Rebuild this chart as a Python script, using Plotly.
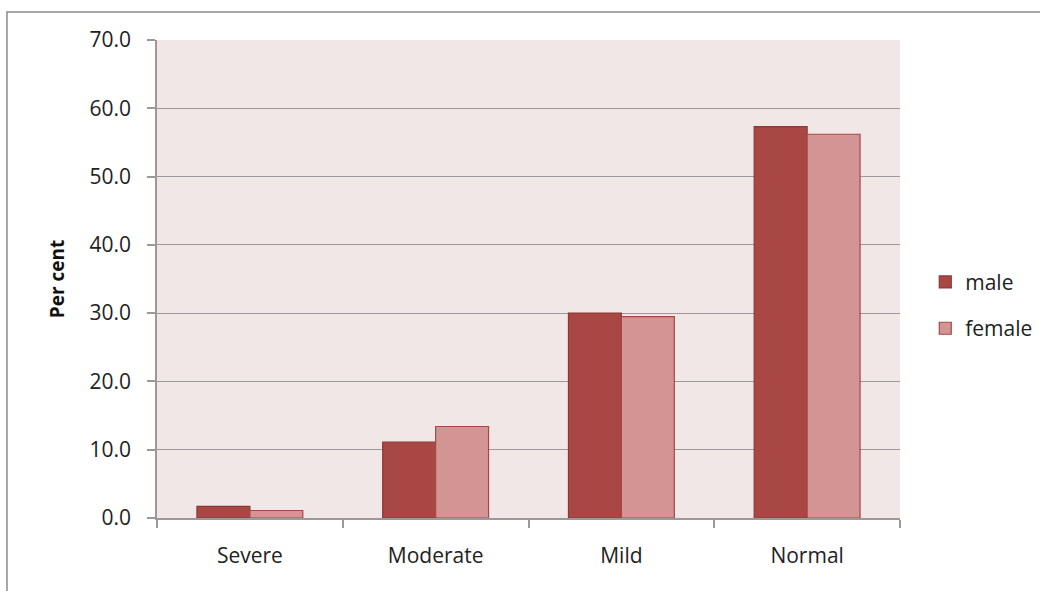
import plotly.graph_objects as go

# Severity categories and percentages by sex
categories = ["Severe", "Moderate", "Mild", "Normal"]
male = [1.7, 11.1, 30.0, 57.3]
female = [1.1, 13.4, 29.5, 56.2]
y_ticks = [0, 10, 20, 30, 40, 50, 60, 70]
y_tick_labels = ["0.0", "10.0", "20.0", "30.0", "40.0", "50.0", "60.0", "70.0"]

FONT = "Open Sans"

fig = go.Figure()
fig.add_trace(go.Bar(
    name="male", x=categories, y=male, legendgroup="male",
    marker=dict(color="#A94745", line=dict(color="#8E3735", width=1.2)),
))
fig.add_trace(go.Bar(
    name="female", x=categories, y=female, legendgroup="female",
    marker=dict(color="#D39594", line=dict(color="#A94745", width=1.2)),
))

fig.update_layout(
    width=1040, height=591,
    margin=dict(l=157, r=140, t=40, b=73, autoexpand=False),
    paper_bgcolor="white",
    plot_bgcolor="#F2E7E7",
    barmode="group",
    bargap=0.43,
    bargroupgap=0,
    font=dict(family=FONT, size=20, color="#222222"),
    showlegend=True,
    legend=dict(
        x=1.034, y=0.445, xanchor="left", yanchor="middle",
        font=dict(family=FONT, size=21, color="#222222"),
        bgcolor="rgba(0,0,0,0)",
        itemwidth=30,
        tracegroupgap=16,
    ),
    xaxis=dict(
        type="category",
        showline=True, linecolor="#9A9A9A", linewidth=1.5,
        ticks="outside", tickson="boundaries", ticklen=8,
        tickcolor="#9A9A9A", tickwidth=1.5,
        ticklabelstandoff=18,
        tickfont=dict(family=FONT, size=21, color="#222222"),
        showgrid=False,
    ),
    yaxis=dict(
        range=[0, 70],
        tickvals=y_ticks, ticktext=y_tick_labels,
        showline=True, linecolor="#9A9A9A", linewidth=1.5,
        ticks="outside", ticklen=8, tickcolor="#9A9A9A", tickwidth=1.5,
        ticklabelstandoff=12,
        tickfont=dict(family=FONT, size=21, color="#222222"),
        showgrid=True, gridcolor="#9A9A9A", gridwidth=1.2,
        zeroline=False,
        title=dict(text="<b>Per cent</b>", font=dict(family=FONT, size=19, color="#111111"),
                   standoff=20),
    ),
)

# Chart-area frame
fig.add_shape(
    type="rect", xref="paper", yref="paper",
    x0=-0.2019, x1=1.5, y0=-0.5, y1=1.0586,
    line=dict(color="#8A8A8A", width=1.5), fillcolor="rgba(0,0,0,0)",
    layer="below",
)

fig.write_html("out.html")
